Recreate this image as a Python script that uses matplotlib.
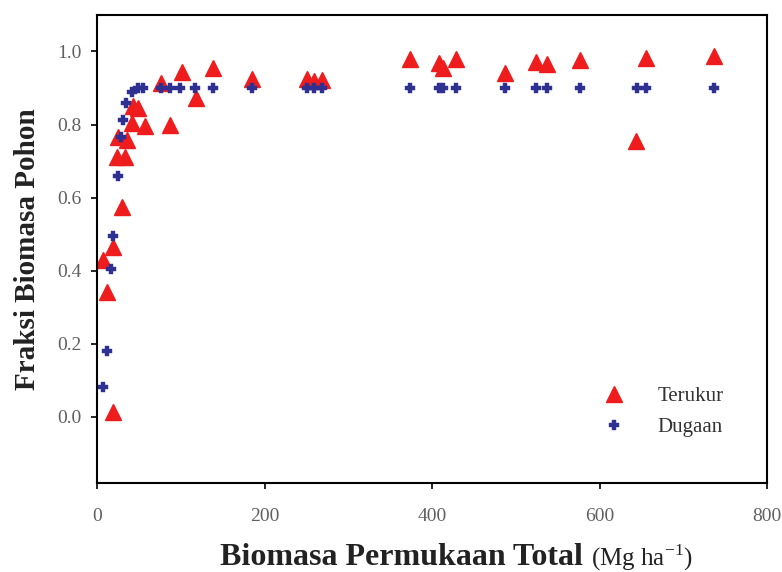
import matplotlib.pyplot as plt
from matplotlib.offsetbox import TextArea, HPacker, AnchoredOffsetbox

# Terukur (measured)
x_terukur = [7.5, 12.3, 18.7, 19.5, 23.5, 25.5, 29.5, 33.4, 35.4, 41.4, 43.4, 49.3, 57.3,
             76, 87, 101, 118, 139, 185.5, 251, 259, 269, 374, 408, 412.5, 429, 487,
             524, 537, 577, 643, 655.5, 737]
y_terukur = [0.43, 0.342, 0.464, 0.014, 0.712, 0.765, 0.575, 0.712, 0.758, 0.804, 0.85, 0.845, 0.795,
             0.914, 0.80, 0.943, 0.872, 0.954, 0.924, 0.924, 0.92, 0.922, 0.979, 0.968, 0.956, 0.979, 0.94,
             0.97, 0.966, 0.976, 0.756, 0.982, 0.988]

# Dugaan (predicted)
x_dugaan = [7.5, 11.5, 16.2, 18.7, 24.6, 28.6, 30.6, 34.6, 41.4, 49.3, 55.3,
            76, 87, 99, 117, 138, 185, 251, 259, 269, 374, 408, 412.5, 429, 487,
            524, 537, 577, 645, 655.5, 737]
y_dugaan = [0.082, 0.18, 0.404, 0.495, 0.66, 0.767, 0.813, 0.859, 0.89, 0.9, 0.9,
            0.9, 0.9, 0.9, 0.9, 0.9, 0.9, 0.9, 0.9, 0.9, 0.9, 0.9, 0.9, 0.9, 0.9,
            0.9, 0.9, 0.9, 0.9, 0.9, 0.9]

plt.rcParams['font.family'] = ['Liberation Serif', 'DejaVu Serif']

fig = plt.figure(figsize=(7.82, 5.72), dpi=100)
ax = fig.add_axes([0.124, 0.156, 0.857, 0.818])

ax.plot(x_terukur, y_terukur, linestyle='none', marker='^', markersize=11,
        color='#ee1c1c', markeredgecolor='#ee1c1c', label='Terukur', zorder=2)
ax.plot(x_dugaan, y_dugaan, linestyle='none', marker='P', markersize=7,
        color='#2e3192', markeredgecolor='#2e3192', markeredgewidth=0.3,
        label='Dugaan', zorder=3)

ax.set_xlim(0, 800)
ax.set_ylim(-0.18, 1.1)
ax.set_xticks([0, 200, 400, 600, 800])
ax.set_yticks([0.0, 0.2, 0.4, 0.6, 0.8, 1.0])
ax.set_yticklabels(['%.1f' % v for v in ax.get_yticks()])
ax.tick_params(direction='out', length=4, width=1.2, labelsize=14,
               labelcolor='#606060', pad=7)
ax.tick_params(axis='x', pad=14)
for s in ax.spines.values():
    s.set_linewidth(1.5)

ax.set_ylabel('Fraksi Biomasa Pohon', fontsize=21, fontweight='bold',
              color='#222222', labelpad=12)

# x label: bold main part + smaller unit part
t1 = TextArea('Biomasa Permukaan Total ',
              textprops=dict(fontsize=23, fontweight='bold', color='#222222'))
t2 = TextArea('(Mg ha$^{\\mathregular{-1}}$)',
              textprops=dict(fontsize=18, color='#222222'))
box = HPacker(children=[t1, t2], align='baseline', pad=0, sep=0)
anchored = AnchoredOffsetbox(loc='upper center', child=box, frameon=False,
                             bbox_to_anchor=(0.536, -0.115),
                             bbox_transform=ax.transAxes, borderpad=0)
ax.add_artist(anchored)

leg = ax.legend(loc='lower right', bbox_to_anchor=(0.963, 0.058), frameon=False,
                fontsize=15, handletextpad=1.1, labelspacing=0.55)
for t in leg.get_texts():
    t.set_color('#333333')

fig.savefig('out.png', dpi=100)
